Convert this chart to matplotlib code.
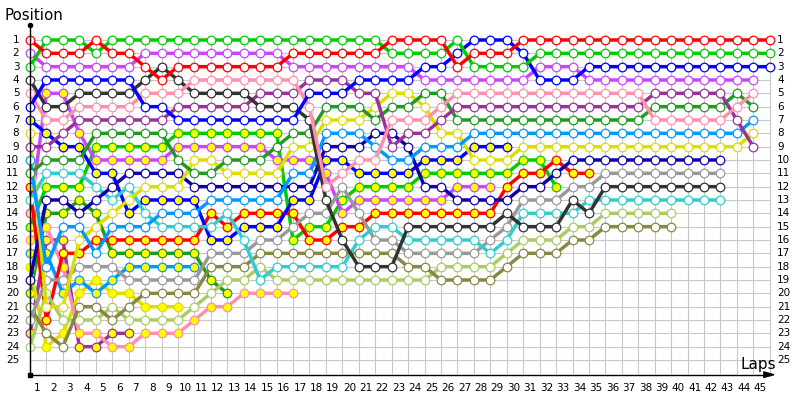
import matplotlib
matplotlib.use("Agg")
import matplotlib.pyplot as plt

laps = list(range(1, 46))
positions = list(range(1, 26))

# position of each driver at lap columns 0,1,2,... (until retirement / finish)
red_w = [1,2,2,2,1,2,2,3,4,3,3,3,3,3,3,3,2,2,2,2,2,2,1,1,1,1,3,2,2,2,1,1,1,1,1,1,1,1,1,1,1,1,1,1,1,1]
green_w = [3,1,1,1,2,1,1,1,1,1,1,1,1,1,1,1,1,1,1,1,1,1,2,2,2,2,1,3,3,3,3,2,2,2,2,2,2,2,2,2,2,2,2,2,2,2]
blue_w = [6,4,4,4,4,4,4,6,6,7,7,7,7,7,7,7,7,5,5,5,4,4,4,4,3,3,2,1,1,1,2,4,4,4,3,3,3,3,3,3,3,3,3,3,3,3]
violet_w = [2,3,3,3,3,3,3,2,2,2,2,2,2,2,2,2,3,3,3,3,3,3,3,3,4,4,4,4,4,4,4,3,3,3,4,4,4,4,4,4,4,4,4,4,4]
pink_w = [5,7,7,6,6,6,6,5,5,5,4,4,4,4,4,4,4,6,12,11,10,10,7,7,7,6,5,5,5,5,5,5,5,5,5,5,5,5,7,7,7,7,7,6,5]
darkgray_w = [4,6,6,5,5,5,5,4,3,4,5,5,5,5,6,6,6,7,13,16,18,18,18,15,15,15,15,15,15,14,15,15,15,13,14,12,12,12,12,12,12,12,12]
purple_w = [9,9,8,7,7,7,7,7,7,6,6,6,6,6,5,5,5,4,4,4,5,5,9,8,8,7,6,6,6,6,6,6,6,6,6,6,6,6,5,5,5,5,5,7,9]
darkgreen_w = [11,10,10,10,8,8,8,8,8,10,11,11,10,10,10,9,8,8,6,6,6,7,6,6,5,5,7,7,7,7,7,7,7,7,7,7,7,7,6,6,6,6,6,5,6]
lightblue_w = [10,18,15,15,17,15,15,15,14,14,14,13,13,13,13,13,11,11,8,8,8,9,10,10,9,9,9,8,8,8,8,8,8,8,8,8,8,8,8,8,8,8,8,8,7]
yellow_w = [8,21,21,16,15,14,13,12,12,12,10,10,11,11,11,11,9,9,7,7,7,6,5,5,6,8,8,10,10,10,9,9,9,9,9,9,9,9,9,9,9,9,9,9,8]
navy_w = [19,13,13,14,13,12,11,11,11,11,12,12,12,12,12,12,12,12,9,9,9,8,8,9,12,12,13,13,13,13,12,12,11,10,10,10,10,10,10,10,10,10,10]
teal_w = [13,11,11,11,12,13,12,14,15,15,15,15,14,16,19,18,18,18,18,18,16,15,15,16,16,16,16,16,17,16,14,14,14,14,13,13,13,13,13,13,13,13,13]
gray_w = [22,19,19,18,18,18,19,19,19,19,19,17,17,17,16,16,15,14,14,12,14,16,16,17,17,17,17,17,16,15,13,13,13,12,12,11,11,11,11,11,11,11,11]
olive_w = [21,23,24,21,21,22,21,20,20,20,20,18,18,18,17,17,17,17,17,17,17,17,17,18,18,19,19,19,19,18,17,17,17,16,16,15,15,15,15,15]
lightolive_w = [24,20,22,22,22,21,22,22,22,22,21,20,19,19,18,19,19,19,19,19,19,19,19,19,19,18,18,18,18,17,16,16,16,15,15,14,14,14,14,14]
blue_y = [7,8,9,9,11,11,14,13,13,13,13,16,16,15,15,15,13,13,10,10,11,11,11,11,10,10,10,9,9,9]
red_y = [12,22,17,17,16,16,16,16,16,16,16,14,15,14,14,14,14,16,16,15,15,14,14,14,14,14,14,14,14,12,11,11,10,11,11]
violet_y = [14,5,5,8,10,10,10,10,10,9,9,9,9,9,9,10,10,10,11,14,13,13,13,13,13,13,12,12,12]
green_y = [15,12,12,12,9,9,9,9,9,8,8,8,8,8,8,8,16,15,15,13,12,12,12,12,11,11,11,11,11,11,10,10,12]
pink_y = [16,15,18,23,23,24,24,23,23,23,22,21,21,20,20,20,20]
lightblue_y = [17,17,20,19,20,19,18,18,18,18,18]
yellow_y = [18,24,23,20,19,20,20,21,21,21]
darkgreen_y = [20,14,14,13,14,17,17,17,17,17,17,19,20]
purple_y = [23,16,16,24,24,23,23]

drivers = [
    (red_w, "#ff0000", False), (green_w, "#00cc00", False), (blue_w, "#0000ff", False),
    (violet_w, "#cc44ff", False), (pink_w, "#ff8fab", False), (darkgray_w, "#333333", False),
    (purple_w, "#993399", False), (darkgreen_w, "#229922", False), (lightblue_w, "#0099ff", False),
    (yellow_w, "#dddd00", False), (navy_w, "#1100aa", False), (teal_w, "#33cccc", False),
    (gray_w, "#999999", False), (olive_w, "#888844", False), (lightolive_w, "#aacc66", False),
    (blue_y, "#0000ff", True), (red_y, "#ff0000", True), (violet_y, "#cc44ff", True),
    (green_y, "#00cc00", True), (pink_y, "#ff8fab", True), (lightblue_y, "#0099ff", True),
    (yellow_y, "#dddd00", True), (darkgreen_y, "#229922", True), (purple_y, "#993399", True),
]

fig = plt.figure(figsize=(8, 4), dpi=100)
ax = fig.add_axes([0, 0, 1, 1])
ax.set_xlim(-1.825, 46.837)
ax.set_ylim(28.0, -2.0)
ax.axis("off")

grid_c = "#c8c8c8"
for lap in range(0, 46):
    ax.plot([lap, lap], [0.75, 26.0], color=grid_c, lw=0.8, zorder=1)
for p in positions:
    ax.plot([0, 45], [p, p], color=grid_c, lw=0.8, zorder=1)

# axes
ax.plot([0, 0], [-0.12, 26.1], color="black", lw=1.0, zorder=5)
ax.plot([0, 45.0], [26.1, 26.1], color="black", lw=1.0, zorder=5)
ax.annotate("", xy=(45.55, 26.1), xytext=(44.7, 26.1),
            arrowprops=dict(arrowstyle="-|>,head_length=0.7,head_width=0.2", color="black", lw=1.0))
ax.plot([0], [-0.12], marker="o", ms=3, color="black", zorder=6)
ax.plot([0], [26.1], marker="s", ms=2.5, color="black", zorder=6)

for pos_list, col, yfill in reversed(drivers):
    xs = list(range(len(pos_list)))
    ax.plot(xs, pos_list, color=col, lw=2.5, solid_capstyle="round", zorder=3,
            marker="o", ms=6.2, mfc="#ffff00" if yfill else "white", mec=col, mew=0.9)

for p in positions:
    ax.text(-0.65, p, str(p), ha="right", va="center", fontsize=7.5, family="DejaVu Sans")
    ax.text(45.45, p, str(p), ha="left", va="center", fontsize=7.5, family="DejaVu Sans")
for lap in laps:
    ax.text(lap - 0.574, 27.1, str(lap), ha="center", va="center", fontsize=7.5, family="DejaVu Sans")

fig.text(4 / 800, 1 - 15 / 400, "Position", ha="left", va="center", fontsize=10.8, family="DejaVu Sans")
fig.text(758 / 800, 1 - 364 / 400, "Laps", ha="center", va="center", fontsize=11, family="DejaVu Sans")

fig.savefig("out.png", dpi=100)
